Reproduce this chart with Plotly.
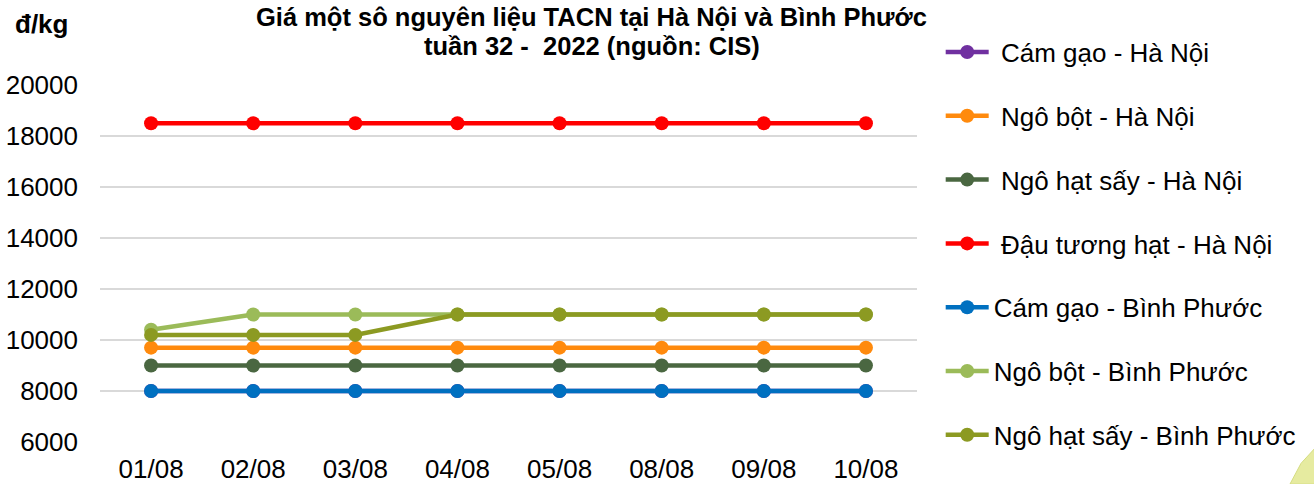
import plotly.graph_objects as go

dates = ["01/08", "02/08", "03/08", "04/08", "05/08", "08/08", "09/08", "10/08"]
cam_gao_hn = [8000, 8000, 8000, 8000, 8000, 8000, 8000, 8000]
ngo_bot_hn = [9700, 9700, 9700, 9700, 9700, 9700, 9700, 9700]
ngo_hat_say_hn = [9000, 9000, 9000, 9000, 9000, 9000, 9000, 9000]
dau_tuong_hn = [18500, 18500, 18500, 18500, 18500, 18500, 18500, 18500]
cam_gao_bp = [8000, 8000, 8000, 8000, 8000, 8000, 8000, 8000]
ngo_bot_bp = [10400, 11000, 11000, 11000, 11000, 11000, 11000, 11000]
ngo_hat_say_bp = [10200, 10200, 10200, 11000, 11000, 11000, 11000, 11000]

series = [
    (" Cám gạo - Hà Nội", cam_gao_hn, "#7030A0"),
    (" Ngô bột - Hà Nội", ngo_bot_hn, "#FF8A0D"),
    (" Ngô hạt sấy - Hà Nội", ngo_hat_say_hn, "#4A6741"),
    (" Đậu tương hạt - Hà Nội", dau_tuong_hn, "#FF0000"),
    ("Cám gạo - Bình Phước", cam_gao_bp, "#0070C0"),
    ("Ngô bột - Bình Phước", ngo_bot_bp, "#9BBB59"),
    ("Ngô hạt sấy - Bình Phước", ngo_hat_say_bp, "#8C9A22"),
]

title_lines = ["Giá một sô nguyên liệu TACN tại Hà Nội và Bình Phước",
               "tuần 32 -  2022 (nguồn: CIS)"]

fig = go.Figure()
for i, (name, vals, color) in enumerate(series):
    fig.add_trace(go.Scatter(
        x=dates, y=vals, name=name, mode="lines+markers",
        line=dict(color=color, width=4.5),
        marker=dict(color=color, size=14),
        legendgroup=f"g{i}",
    ))

fig.update_layout(
    width=1314, height=484,
    margin=dict(l=100, r=397, t=85, b=42, autoexpand=False),
    paper_bgcolor="white", plot_bgcolor="white",
    font=dict(family="Liberation Sans, Arial, sans-serif", size=26, color="black"),
    xaxis=dict(
        type="category", showgrid=False, showline=False, zeroline=False,
        ticks="", tickfont=dict(size=26), range=[-0.5, 7.5],
        ticklabelstandoff=9, automargin=False,
    ),
    yaxis=dict(
        range=[6000, 20000], dtick=2000, tickformat="d",
        showgrid=True, gridcolor="#D9D9D9",
        gridwidth=1.5, zeroline=False, showline=False, ticks="",
        tickfont=dict(size=26), ticklabelstandoff=21, automargin=False,
    ),
    legend=dict(
        x=1.029, xanchor="left", y=1.158, yanchor="top",
        font=dict(size=26), tracegroupgap=27, itemwidth=43,
        bgcolor="rgba(0,0,0,0)", maxheight=480,
    ),
    showlegend=True,
)

fig.add_annotation(
    text="<b>" + title_lines[0] + "</b>", xref="paper", yref="paper",
    x=0.602, y=1.190, xanchor="center", yanchor="middle",
    showarrow=False, font=dict(size=25.5),
)
fig.add_annotation(
    text="<b>" + title_lines[1] + "</b>", xref="paper", yref="paper",
    x=0.602, y=1.110, xanchor="center", yanchor="middle",
    showarrow=False, font=dict(size=25.5),
)
fig.add_annotation(
    text="<b>đ/kg</b>", xref="paper", yref="paper", x=-0.072, y=1.172,
    xanchor="center", yanchor="middle", showarrow=False, font=dict(size=26),
)

fig.add_shape(
    type="path", xref="paper", yref="paper",
    path="M 1.4565 -0.118 L 1.47 -0.06 L 1.49 -0.01 L 1.5 -0.005 L 1.5 -0.118 Z",
    fillcolor="#E6EBA0", line=dict(color="#D4DC80", width=1),
)

fig.write_html("out.html", config={"displayModeBar": False},
               post_script="document.body.style.margin='0';")
